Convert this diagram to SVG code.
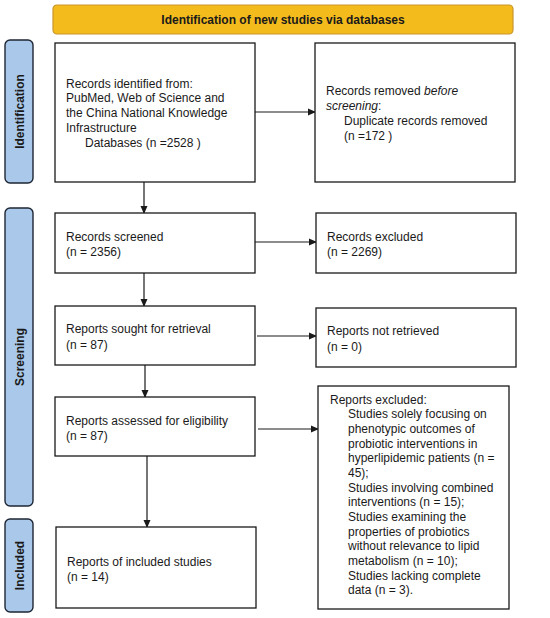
<svg xmlns="http://www.w3.org/2000/svg" width="550" height="618" viewBox="0 0 550 618">
<defs>
<style>
.box{fill:#fff;stroke:#1a1a1a;stroke-width:1.3}
.side{fill:#a9c8ea;stroke:#1e2633;stroke-width:1.4}
.t{font-family:"Liberation Sans",Arial,sans-serif;font-size:12px;fill:#1a1a1a}
.b{font-family:"Liberation Sans",Arial,sans-serif;font-size:12px;font-weight:bold;fill:#1a1a1a}
.c{stroke:#1a1a1a;stroke-width:1.2;fill:none}
</style>
<marker id="ah" markerWidth="8" markerHeight="8" refX="7" refY="4" orient="auto" markerUnits="userSpaceOnUse">
<path d="M0,0.5 L8,4 L0,7.5 Z" fill="#1a1a1a"/>
</marker>
</defs>
<rect width="550" height="618" fill="#fff"/>
<g id="banner">
<rect x="53" y="5" width="460" height="29" rx="4" fill="#f4bb1d" stroke="#c9952a" stroke-width="1.2"/>
<text class="b" x="283" y="24" text-anchor="middle">Identification of new studies via databases</text>
</g>
<g id="side-identification">
<rect class="side" x="5" y="40" width="28" height="143" rx="5"/>
<text class="b" transform="translate(23.5,111.5) rotate(-90)" text-anchor="middle">Identification</text>
</g>
<g id="side-screening">
<rect class="side" x="5" y="208" width="28" height="298" rx="5"/>
<text class="b" transform="translate(23.5,357) rotate(-90)" text-anchor="middle">Screening</text>
</g>
<g id="side-included">
<rect class="side" x="5" y="519" width="28" height="93" rx="5"/>
<text class="b" transform="translate(23.5,565.5) rotate(-90)" text-anchor="middle">Included</text>
</g>
<g id="connectors">
<line class="c" x1="255" y1="112" x2="315" y2="112" marker-end="url(#ah)"/>
<line class="c" x1="255" y1="242" x2="316" y2="242" marker-end="url(#ah)"/>
<line class="c" x1="257" y1="336" x2="316" y2="336" marker-end="url(#ah)"/>
<line class="c" x1="258" y1="429" x2="318" y2="429" marker-end="url(#ah)"/>
<line class="c" x1="144" y1="182" x2="144" y2="213" marker-end="url(#ah)"/>
<line class="c" x1="144" y1="273" x2="144" y2="306" marker-end="url(#ah)"/>
<line class="c" x1="145" y1="365" x2="145" y2="397" marker-end="url(#ah)"/>
<line class="c" x1="147" y1="456" x2="147" y2="527" marker-end="url(#ah)"/>
</g>
<g id="records-identified">
<rect class="box" x="55" y="43" width="200" height="139"/>
<text class="t" x="66" y="87.5">Records identified from:</text>
<text class="t" x="66" y="102">PubMed, Web of Science and</text>
<text class="t" x="66" y="117">the China National Knowledge</text>
<text class="t" x="66" y="131.5">Infrastructure</text>
<text class="t" x="85" y="146.5">Databases (n =2528 )</text>
</g>
<g id="records-removed">
<rect class="box" x="315" y="43" width="200" height="139"/>
<text class="t" x="326" y="95">Records removed <tspan font-style="italic">before</tspan></text>
<text class="t" x="326" y="109.5"><tspan font-style="italic">screening</tspan>:</text>
<text class="t" x="344" y="124.5">Duplicate records removed</text>
<text class="t" x="344" y="140">(n =172 )</text>
</g>
<g id="records-screened">
<rect class="box" x="55" y="213" width="200" height="60"/>
<text class="t" x="66" y="240.5">Records screened</text>
<text class="t" x="66" y="256">(n = 2356)</text>
</g>
<g id="records-excluded">
<rect class="box" x="316" y="213" width="200" height="60"/>
<text class="t" x="327" y="240.5">Records excluded</text>
<text class="t" x="327" y="256">(n = 2269)</text>
</g>
<g id="reports-sought">
<rect class="box" x="55" y="306" width="200" height="59"/>
<text class="t" x="66" y="332.5">Reports sought for retrieval</text>
<text class="t" x="66" y="348.5">(n = 87)</text>
</g>
<g id="reports-not-retrieved">
<rect class="box" x="316" y="308" width="200" height="59"/>
<text class="t" x="327" y="334.5">Reports not retrieved</text>
<text class="t" x="327" y="350.5">(n = 0)</text>
</g>
<g id="reports-assessed">
<rect class="box" x="55" y="397" width="200" height="59"/>
<text class="t" x="66" y="424.5">Reports assessed for eligibility</text>
<text class="t" x="66" y="439.5">(n = 87)</text>
</g>
<g id="reports-excluded">
<rect class="box" x="318" y="386" width="191" height="223"/>
<text class="t" x="330" y="403.7">Reports excluded:</text>
<text class="t" x="348" y="418.3">Studies solely focusing on</text>
<text class="t" x="348" y="433">phenotypic outcomes of</text>
<text class="t" x="348" y="447.6">probiotic interventions in</text>
<text class="t" x="348" y="462.3">hyperlipidemic patients (n =</text>
<text class="t" x="348" y="477">45);</text>
<text class="t" x="348" y="491.6">Studies involving combined</text>
<text class="t" x="348" y="506.3">interventions (n = 15);</text>
<text class="t" x="348" y="521">Studies examining the</text>
<text class="t" x="348" y="535.6">properties of probiotics</text>
<text class="t" x="348" y="550.3">without relevance to lipid</text>
<text class="t" x="348" y="565">metabolism (n = 10);</text>
<text class="t" x="348" y="579.6">Studies lacking complete</text>
<text class="t" x="348" y="594.3">data (n = 3).</text>
</g>
<g id="reports-included">
<rect class="box" x="56" y="527" width="200" height="81"/>
<text class="t" x="67" y="565.5">Reports of included studies</text>
<text class="t" x="67" y="580.5">(n = 14)</text>
</g>
</svg>
